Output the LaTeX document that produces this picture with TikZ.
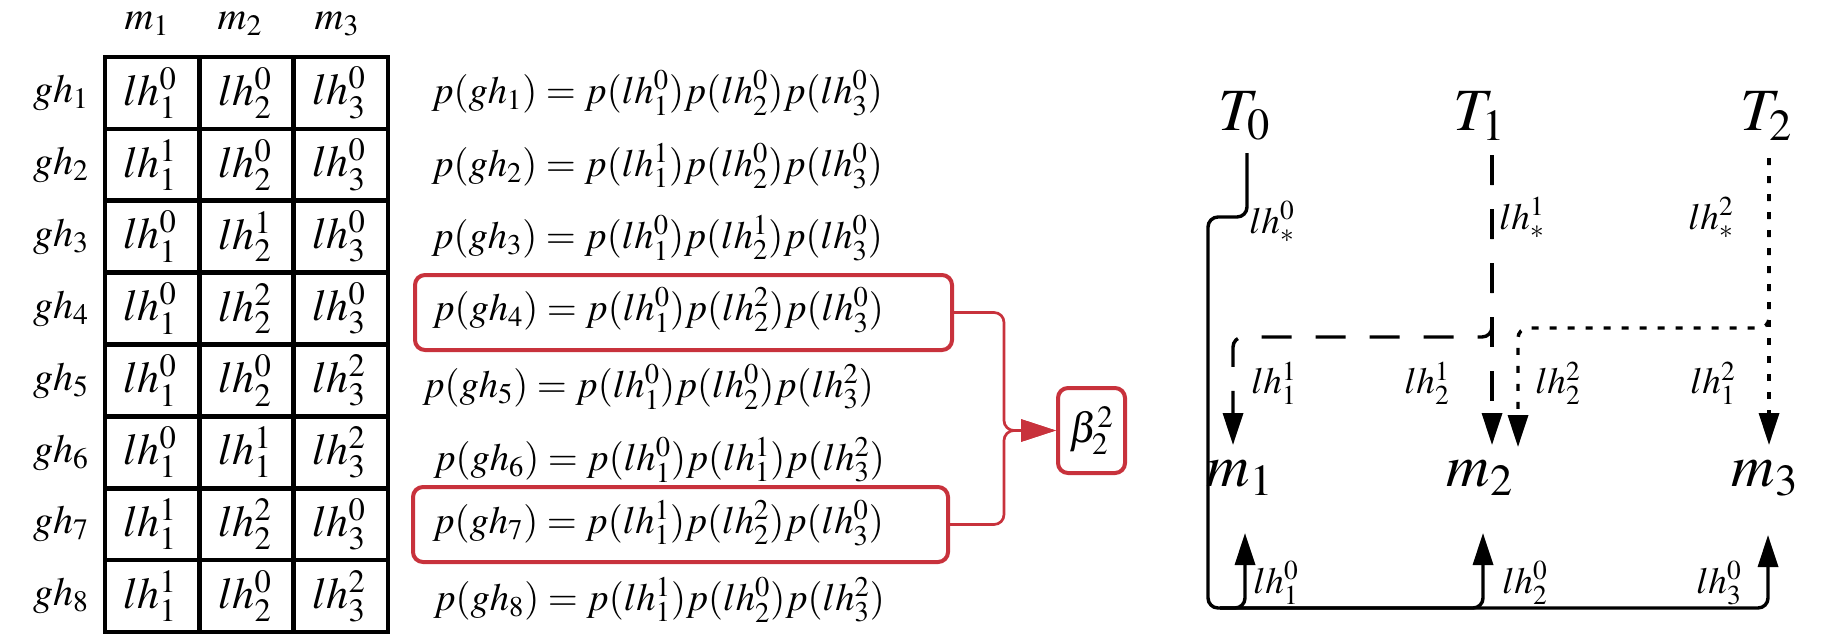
\documentclass[tikz,border=0pt]{standalone}
\usepackage{mathptmx}
\usetikzlibrary{arrows.meta}
\definecolor{redc}{RGB}{200,50,60}
\begin{document}
\begin{tikzpicture}[x=0.5pt,y=-0.5pt,
  tbl/.style={line width=2.3pt, line cap=rect},
  cell/.style={font=\fontsize{22}{26}\selectfont, inner sep=0pt},
  lbl/.style={font=\fontsize{20}{24}\selectfont, inner sep=0pt},
  eqn/.style={font=\fontsize{19.3}{23}\selectfont, anchor=west, inner sep=0pt},
  redbox/.style={draw=redc, line width=2pt, rounded corners=5pt, inner sep=0pt},
  redline/.style={draw=redc, line width=1.35pt, rounded corners=5pt},
  big/.style={font=\fontsize{30}{36}\selectfont, inner sep=0pt},
  small/.style={font=\fontsize{18.5}{22}\selectfont, inner sep=0pt},
  conn/.style={line width=1.7pt, rounded corners=5pt},
  dashedl/.style={line width=1.7pt, dash pattern=on 15pt off 12pt, rounded corners=5pt},
  dotl/.style={line width=1.7pt, dash pattern=on 3.5pt off 5.5pt, rounded corners=5pt},
  tip/.style={-{Triangle[length=16pt,width=10pt]}}]
\useasboundingbox (0,0) rectangle (1824,643);

% ---- table grid
\foreach \i in {0,...,8}
  \draw[tbl] (105,{57+\i*71.875}) -- (388,{57+\i*71.875});
\foreach \x in {105,199.3,293.7,388}
  \draw[tbl] (\x,57) -- (\x,632);

% ---- headers
\node[lbl] (h1) at (147,24) {$m_1$};
\node[lbl] (h2) at (240,24) {$m_2$};
\node[lbl] (h3) at (337,24) {$m_3$};

% ---- rows
\foreach \r/\a/\as/\b/\bs/\c/\cs/\ex/\ey in {
  1/1/0/2/0/3/0/431/93,
  2/1/1/2/0/3/0/431/166,
  3/1/0/2/1/3/0/431/238,
  4/1/0/2/2/3/0/432/310,
  5/1/0/2/0/3/2/422/387,
  6/1/0/1/1/3/2/433/460,
  7/1/1/2/2/3/0/432/523,
  8/1/1/2/0/3/2/433/600}{
  \pgfmathsetmacro{\yc}{57+(\r-0.5)*71.875}
  \node[lbl] (g\r) at (61,\yc) {$gh_{\r}$};
  \node[cell] (c\r a) at (150,\yc) {$lh_{\a}^{\as}$};
  \node[cell] (c\r b) at (245,\yc) {$lh_{\b}^{\bs}$};
  \node[cell] (c\r c) at (339,\yc) {$lh_{\c}^{\cs}$};
  \node[eqn] (e\r) at (\ex,\ey) {$p(gh_{\r}) = p(lh_{\a}^{\as})p(lh_{\b}^{\bs})p(lh_{\c}^{\cs})$};
}

% ---- red boxes and beta
\node[redbox, minimum width=268.5pt, minimum height=37.5pt] (B1) at (683.5,312.5) {};
\node[redbox, minimum width=267.5pt, minimum height=37.5pt] (B2) at (680.5,524.5) {};
\node[redbox, minimum width=33.5pt, minimum height=42.5pt, font=\fontsize{21}{25}\selectfont] (beta) at (1091.5,430.5) {$\beta_2^2$};
\draw[redline, -{Triangle[length=17.5pt,width=11pt]}] (B1.east) -- (1004,312.5) -- (1004,430.5) -- (beta.west);
\draw[redline, -{Triangle[length=17.5pt,width=11pt]}] (B2.east) -- (1004,524.5) -- (1004,430.5) -- (beta.west);

% ---- right diagram nodes
\node[big] (T0) at (1245,116) {$T_0$};
\node[big] (T1) at (1480,116) {$T_1$};
\node[big] (T2) at (1767,116) {$T_2$};
\node[big] (M1) at (1240,478) {$m_1$};
\node[big] (M2) at (1480,478) {$m_2$};
\node[big] (M3) at (1765,478) {$m_3$};

\coordinate (t0a) at (1247,153);
\coordinate (t1a) at (1492,155);
\coordinate (t2a) at (1769,158);
\coordinate (m1top) at (1233,445);
\coordinate (m2topa) at (1492,445);
\coordinate (m2topb) at (1518,447);
\coordinate (m3top) at (1769,445);
\coordinate (m1bot) at (1245,533);
\coordinate (m2bot) at (1483,533);
\coordinate (m3bot) at (1768,535);

% solid T0
\draw[conn, tip] (t0a) -- (1247,217) -- (1208,217) -- (1208,608) -- (1768,608) -- (m3bot);
\draw[conn, tip] (1220,608) -- (1245,608) -- (m1bot);
\draw[conn, tip] (1220,608) -- (1483,608) -- (m2bot);
% dashed T1
\draw[dashedl, tip] (t1a) -- (1492,337) -- (1233,337) -- (m1top);
\draw[dashedl, tip] (t1a) -- (m2topa);
% dotted T2
\draw[dotl, tip] (t2a) -- (1769,328) -- (1518,328) -- (m2topb);
\draw[dotl, tip] (t2a) -- (m3top);

% labels
\node[small] (l0s) at (1272,222) {$lh_*^0$};
\node[small] (l1s) at (1522,218) {$lh_*^1$};
\node[small] (l2s) at (1711,218) {$lh_*^2$};
\node[small] (l11) at (1274,383) {$lh_1^1$};
\node[small] (l21) at (1427,383) {$lh_2^1$};
\node[small] (l22) at (1558,383) {$lh_2^2$};
\node[small] (l12) at (1713,383) {$lh_1^2$};
\node[small] (l10) at (1276,583) {$lh_1^0$};
\node[small] (l20) at (1525,583) {$lh_2^0$};
\node[small] (l30) at (1719,583) {$lh_3^0$};
\end{tikzpicture}
\end{document}
